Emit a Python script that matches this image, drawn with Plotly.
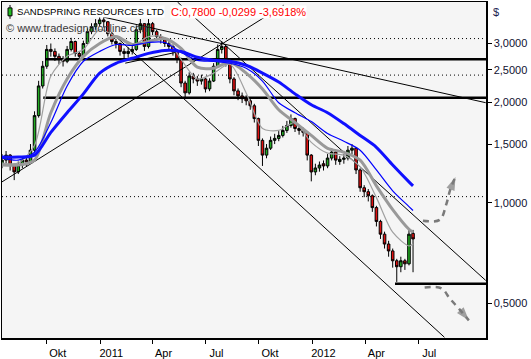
import pandas as pd
import plotly.graph_objects as go

# ---------------- data ----------------
bar_dates = pd.date_range("2010-07-16", periods=102, freq="7D")

opens = [1.30, 1.343, 1.390, 1.298, 1.238, 1.298, 1.343, 1.325, 1.438, 1.825,
         2.239, 2.565, 2.88, 2.841, 2.746, 2.69, 2.654, 2.88, 3.042, 2.80,
         2.746, 3.00, 3.256, 3.369, 3.44, 3.53, 3.486, 3.21, 3.042, 3.00,
         2.841, 2.80, 2.841, 2.88, 3.30, 3.44, 2.94, 3.44, 3.256, 3.147,
         3.08, 3.00, 2.94, 2.841, 2.69, 2.285, 2.135, 2.397, 2.35, 2.316,
         2.35, 2.194, 2.316, 2.565, 2.88, 2.94, 2.62, 2.35, 2.164, 2.091,
         2.05, 2.021, 1.953, 1.788, 1.539, 1.390, 1.458, 1.539, 1.56, 1.592,
         1.648, 1.705, 1.788, 1.67, 1.648, 1.626, 1.390, 1.238, 1.272, 1.31,
         1.29, 1.362, 1.419, 1.33, 1.35, 1.362, 1.438, 1.458, 1.255, 1.11,
         1.08, 1.05, 0.968, 0.88, 0.806, 0.753, 0.718, 0.671, 0.644, 0.671,
         0.657, 0.81]
closes = [1.343, 1.390, 1.298, 1.238, 1.298, 1.343, 1.325, 1.438, 1.825, 2.239,
          2.565, 2.88, 2.841, 2.746, 2.69, 2.654, 2.88, 3.042, 2.80, 2.746,
          3.00, 3.256, 3.369, 3.44, 3.53, 3.486, 3.21, 3.042, 3.00, 2.841,
          2.80, 2.841, 2.88, 3.30, 3.44, 2.94, 3.44, 3.256, 3.147, 3.08,
          3.00, 2.94, 2.841, 2.69, 2.285, 2.135, 2.397, 2.35, 2.316, 2.35,
          2.194, 2.316, 2.565, 2.88, 2.94, 2.62, 2.35, 2.164, 2.091, 2.05,
          2.021, 1.953, 1.788, 1.539, 1.390, 1.458, 1.539, 1.56, 1.592, 1.648,
          1.705, 1.788, 1.67, 1.648, 1.626, 1.390, 1.238, 1.272, 1.298, 1.29,
          1.362, 1.419, 1.343, 1.35, 1.362, 1.438, 1.458, 1.255, 1.11, 1.08,
          1.05, 0.968, 0.88, 0.806, 0.753, 0.718, 0.671, 0.644, 0.671, 0.657,
          0.806, 0.78]
highs = [1.40, 1.43, 1.40, 1.31, 1.33, 1.37, 1.37, 1.50, 1.88, 2.32,
         2.66, 2.97, 3.00, 2.90, 2.80, 2.75, 2.95, 3.12, 3.06, 2.85,
         3.06, 3.33, 3.45, 3.55, 3.62, 3.60, 3.50, 3.25, 3.10, 3.02,
         2.90, 2.92, 2.98, 3.40, 3.55, 3.45, 3.55, 3.48, 3.30, 3.20,
         3.12, 3.06, 2.98, 2.88, 2.72, 2.32, 2.46, 2.45, 2.40, 2.42,
         2.37, 2.36, 2.62, 2.98, 3.05, 2.96, 2.64, 2.38, 2.20, 2.14,
         2.10, 2.06, 1.98, 1.80, 1.56, 1.50, 1.58, 1.61, 1.64, 1.70,
         1.76, 1.84, 1.80, 1.70, 1.68, 1.64, 1.40, 1.31, 1.33, 1.34,
         1.40, 1.46, 1.43, 1.38, 1.40, 1.48, 1.50, 1.47, 1.27, 1.13,
         1.10, 1.06, 0.98, 0.89, 0.82, 0.77, 0.73, 0.68, 0.69, 0.68,
         0.84, 0.83]
lows = [1.27, 1.31, 1.25, 1.17, 1.22, 1.27, 1.29, 1.31, 1.42, 1.80,
        2.20, 2.52, 2.74, 2.66, 2.60, 2.56, 2.62, 2.84, 2.74, 2.68,
        2.72, 2.97, 3.20, 3.30, 3.38, 3.35, 3.15, 2.98, 2.90, 2.76,
        2.70, 2.72, 2.78, 2.85, 3.22, 2.85, 2.90, 3.18, 3.08, 3.00,
        2.93, 2.86, 2.76, 2.62, 2.22, 2.06, 2.11, 2.28, 2.24, 2.26,
        2.14, 2.16, 2.30, 2.54, 2.80, 2.56, 2.28, 2.10, 2.03, 1.99,
        1.96, 1.90, 1.74, 1.48, 1.29, 1.36, 1.44, 1.50, 1.53, 1.57,
        1.62, 1.68, 1.63, 1.60, 1.58, 1.34, 1.16, 1.21, 1.24, 1.25,
        1.27, 1.34, 1.30, 1.30, 1.31, 1.34, 1.40, 1.22, 1.08, 1.04,
        1.01, 0.94, 0.85, 0.78, 0.73, 0.69, 0.64, 0.58, 0.62, 0.63,
        0.65, 0.62]

# moving averages, sampled every 4th bar plus the last bar
ma_dates = list(bar_dates[0::4]) + [bar_dates[101]]
ma_thick_blue = [1.371, 1.371, 1.390, 1.625, 1.862, 2.120, 2.446, 2.618, 2.709, 2.803,
                 2.861, 2.841, 2.728, 2.672, 2.654, 2.583, 2.446, 2.300, 2.120, 1.967,
                 1.862, 1.728, 1.592, 1.467, 1.298, 1.156, 1.125]
ma_thin_blue = [1.362, 1.343, 1.418, 1.740, 2.239, 2.654, 2.841, 2.980, 2.960, 3.021,
                3.021, 2.822, 2.672, 2.654, 2.618, 2.531, 2.316, 1.994, 1.862, 1.752,
                1.614, 1.529, 1.438, 1.255, 1.087, 0.975, 0.949]
ma_thin_gray = [1.316, 1.316, 1.488, 2.397, 2.746, 2.880, 3.301, 3.147, 2.960, 3.147,
                3.126, 2.691, 2.348, 2.446, 2.600, 2.134, 1.670, 1.648, 1.740, 1.518,
                1.409, 1.390, 1.281, 1.037, 0.817, 0.743, 0.753]
ma_thick_gray = [1.298, 1.298, 1.343, 1.862, 2.348, 2.746, 3.000, 3.147, 2.980, 3.042,
                 3.105, 2.900, 2.548, 2.531, 2.636, 2.446, 2.193, 1.900, 1.740, 1.592,
                 1.457, 1.418, 1.343, 1.125, 0.955, 0.834, 0.817]

# drawn trendlines: (start date, start price, end date, end price)
trendlines = [
    ("2010-07-16", 1.156, "2011-11-13", 3.91),
    ("2011-01-06", 3.60, "2012-10-25", 1.995),
    ("2011-01-26", 3.169, "2012-08-15", 0.396),
    ("2011-05-14", 3.99, "2012-10-25", 0.586),
    ("2011-02-13", 2.62, "2011-05-10", 2.82),
]
# horizontal support / resistance lines: (start date, price)
hlines = [("2010-09-28", 2.69), ("2010-09-25", 2.063), ("2012-05-22", 0.573)]
grid_levels = [3.104, 2.413, 1.044]

arrow_up_dates = ["2012-07-09", "2012-08-07", "2012-08-18", "2012-08-25", "2012-09-03"]
arrow_up_prices = [0.884, 0.890, 0.988, 1.095, 1.196]
arrow_dn_dates = ["2012-07-12", "2012-08-10", "2012-08-24", "2012-09-10", "2012-09-26"]
arrow_dn_prices = [0.558, 0.555, 0.518, 0.480, 0.445]

x_ticks = ["2010-10-01", "2011-01-01", "2011-04-01", "2011-07-01",
           "2011-10-01", "2012-01-01", "2012-04-01", "2012-07-01"]
x_labels = ["Okt", "2011", "Apr", "Jul", "Okt", "2012", "Apr", "Jul"]
y_ticks = [0.5, 1.0, 1.5, 2.0, 2.5, 3.0]
y_labels = ["0,5000", "1,0000", "1,5000", "2,0000", "2,5000", "3,0000"]

X_START, X_END = "2010-07-16", "2012-10-25 12:00"
FONT = "Liberation Sans"

# ---------------- figure ----------------
fig = go.Figure()

for lvl in grid_levels:
    fig.add_trace(go.Scatter(x=[X_START, X_END], y=[lvl, lvl], mode="lines",
                             line=dict(color="black", width=1, dash="1px,3px"),
                             hoverinfo="skip", showlegend=False))

for d0, p in hlines:
    fig.add_trace(go.Scatter(x=[d0, X_END], y=[p, p], mode="lines",
                             line=dict(color="black", width=2.5),
                             hoverinfo="skip", showlegend=False))

for d0, p0, d1, p1 in trendlines:
    fig.add_trace(go.Scatter(x=[d0, d1], y=[p0, p1], mode="lines",
                             line=dict(color="black", width=1),
                             hoverinfo="skip", showlegend=False))

fig.add_trace(go.Candlestick(
    x=bar_dates, open=opens, high=highs, low=lows, close=closes,
    increasing=dict(line=dict(color="black", width=1), fillcolor="#22aa22"),
    decreasing=dict(line=dict(color="black", width=1), fillcolor="#e01010"),
    whiskerwidth=0, showlegend=False, hoverinfo="skip"))

ma_specs = [
    (ma_thin_gray, "#a0a0a0", 1.2),
    (ma_thick_gray, "#999999", 3),
    (ma_thin_blue, "#0000ff", 1.2),
    (ma_thick_blue, "#1010ff", 3),
]
for vals, col, w in ma_specs:
    fig.add_trace(go.Scatter(x=ma_dates, y=vals, mode="lines",
                             line=dict(color=col, width=w, shape="spline", smoothing=0.8),
                             hoverinfo="skip", showlegend=False))

for dts, prs in [(arrow_up_dates, arrow_up_prices), (arrow_dn_dates, arrow_dn_prices)]:
    fig.add_trace(go.Scatter(
        x=dts, y=prs, mode="lines+markers",
        line=dict(color="#7a7a7a", width=2.5, dash="6px,5px", shape="spline"),
        marker=dict(symbol="arrow", size=[0, 0, 0, 0, 14], angleref="previous",
                    color="#7a7a7a", line=dict(width=0)),
        hoverinfo="skip", showlegend=False))

fig.update_layout(
    width=531, height=359,
    margin=dict(l=2, r=45, t=0, b=19),
    paper_bgcolor="white", plot_bgcolor="#f5f5f5",
    font=dict(family=FONT, size=11, color="black"),
    showlegend=False,
    boxgap=0.1,
    hovermode=False,
    xaxis=dict(type="date", range=[X_START, X_END], rangeslider=dict(visible=False),
               tickvals=x_ticks, ticktext=x_labels, ticks="outside", ticklen=4,
               tickcolor="black", showgrid=False, zeroline=False,
               showline=True, linecolor="black", linewidth=1.5, mirror=True,
               ticklabelshift=11, tickfont=dict(family=FONT, size=11, color="black")),
    yaxis=dict(type="log", range=[-0.4045, 0.6014], side="right",
               tickvals=y_ticks, ticktext=y_labels, ticks="outside", ticklen=4,
               tickcolor="black", showgrid=False, zeroline=False,
               showline=True, linecolor="black", linewidth=1.5, mirror=True,
               tickfont=dict(family=FONT, size=11, color="#101030")),
)

def px(x):
    return (x - 2) / 484.0

def py(y):
    return 1 - y / 340.0

# title icon (small green candle)
fig.add_shape(type="line", xref="paper", yref="paper", x0=px(10), x1=px(10),
              y0=py(3), y1=py(17), line=dict(color="black", width=1))
fig.add_shape(type="rect", xref="paper", yref="paper", x0=px(8), x1=px(12),
              y0=py(14), y1=py(6), fillcolor="#22bb22", line=dict(color="black", width=1))

fig.add_annotation(xref="paper", yref="paper", x=px(16), y=py(10), xanchor="left",
                   yanchor="middle", showarrow=False, text="SANDSPRING RESOURCES LTD",
                   font=dict(family=FONT, size=9.6, color="black"), bgcolor="white",
                   borderpad=0)
fig.add_annotation(xref="paper", yref="paper", x=px(170), y=py(10), xanchor="left",
                   yanchor="middle", showarrow=False, text="C:0,7800 -0,0299 -3,6918%",
                   font=dict(family=FONT, size=11, color="#ff0000"), bgcolor="white",
                   borderpad=0)
fig.add_annotation(xref="paper", yref="paper", x=px(4), y=py(26), xanchor="left",
                   yanchor="middle", showarrow=False, text="© www.tradesignalonline.com",
                   font=dict(family=FONT, size=11, color="#3a3a3a"))
fig.add_annotation(xref="paper", yref="paper", x=px(491), y=py(10), xanchor="left",
                   yanchor="middle", showarrow=False, text="$",
                   font=dict(family=FONT, size=11, color="#202050"))

fig.write_html("out.html", config={"displayModeBar": False, "staticPlot": True},
               post_script="document.body.style.margin='0px';")
